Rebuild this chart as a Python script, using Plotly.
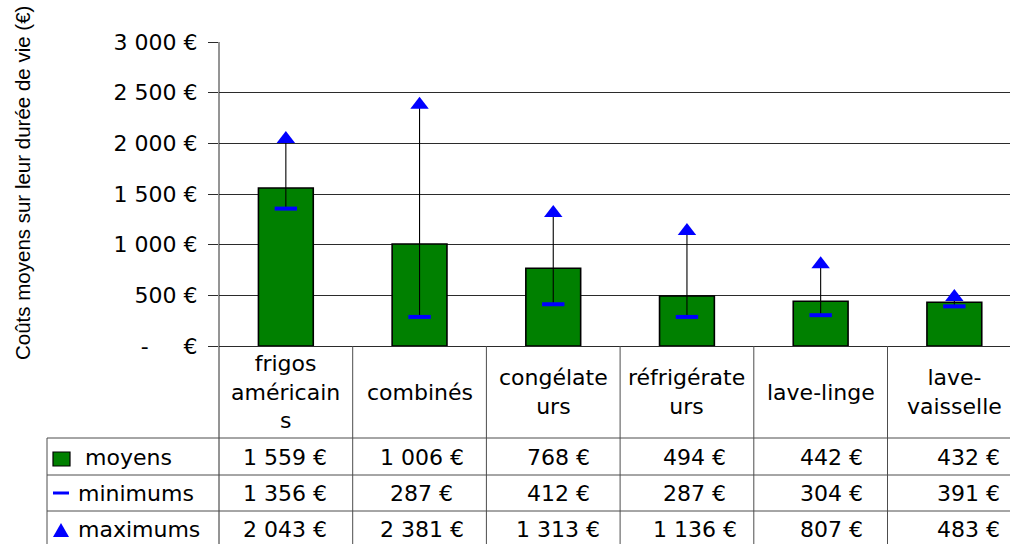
import plotly.graph_objects as go

# Données : coûts moyens / minimums / maximums sur la durée de vie (€)
categories = ["frigos<br>américain<br>s", "combinés", "congélate<br>urs",
              "réfrigérate<br>urs", "lave-linge", "lave-<br>vaisselle"]
moyens = [1559, 1006, 768, 494, 442, 432]
minimums = [1356, 287, 412, 287, 304, 391]
maximums = [2043, 2381, 1313, 1136, 807, 483]
series_names = ["moyens", "minimums", "maximums"]
y_ticks = [0, 500, 1000, 1500, 2000, 2500, 3000]
y_title = "Coûts moyens sur leur durée de vie (€)"

W, H = 1010, 544
ML, MT, MB = 219, 42, 198
PLOT_W = W - ML
PLOT_H = H - MT - MB
COL_W = 133.7          # largeur d'une colonne du tableau, en pixels
GREEN = "#008000"
BLUE = "#0000ff"
GRID = "#2b2b2b"
TABLE = "#4d4d4d"
TXT_FONT = dict(family="DejaVu Sans", size=22, color="black")


def fmt(v):
    return f"{v:,}".replace(",", " ") + " €"


def tick_text(v):
    return "-" + "\u00a0" * 5 + "€" if v == 0 else fmt(v)


def px(p):
    """pixel horizontal -> coordonnée papier"""
    return (p - ML) / PLOT_W


def py(p):
    """pixel vertical -> coordonnée papier"""
    return (MT + PLOT_H - p) / PLOT_H


xs = list(range(len(categories)))

fig = go.Figure()

fig.add_trace(go.Bar(
    x=xs, y=moyens, width=0.41, name=series_names[0],
    marker=dict(color=GREEN, line=dict(color="black", width=1.6)),
))

# segments min -> max
seg_x, seg_y = [], []
for x, lo, hi in zip(xs, minimums, maximums):
    seg_x += [x, x, None]
    seg_y += [lo, hi, None]
fig.add_trace(go.Scatter(
    x=seg_x, y=seg_y, mode="lines",
    line=dict(color="black", width=1.1), hoverinfo="skip",
))
fig.add_trace(go.Scatter(
    x=xs, y=minimums, mode="markers", name=series_names[1],
    marker=dict(symbol="line-ew", size=16, line=dict(color=BLUE, width=4)),
))
fig.add_trace(go.Scatter(
    x=xs, y=maximums, mode="markers", name=series_names[2],
    marker=dict(symbol="triangle-up", size=16, color=BLUE, line=dict(width=0)),
))

shapes = []
bottom = py(H + 10)
# axe vertical prolongé dans le tableau
shapes.append(dict(type="line", xref="paper", yref="paper", x0=0, x1=0,
                   y0=1, y1=bottom, line=dict(color=GRID, width=1)))
# séparateurs de colonnes
for i in xs[:-1]:
    shapes.append(dict(type="line", xref="x", yref="paper", x0=i + 0.5, x1=i + 0.5,
                       y0=0, y1=bottom, line=dict(color=TABLE, width=1)))
# lignes horizontales du tableau
row_lines = [438, 475, 511]
for r in row_lines:
    shapes.append(dict(type="line", xref="paper", yref="paper", x0=px(47), x1=1,
                       y0=py(r), y1=py(r), line=dict(color=TABLE, width=1)))
shapes.append(dict(type="line", xref="paper", yref="paper", x0=px(47), x1=px(47),
                   y0=py(438), y1=bottom, line=dict(color=TABLE, width=1)))

# symboles de légende dans le tableau
shapes.append(dict(type="rect", xref="paper", yref="paper",
                   x0=px(53), x1=px(70), y0=py(452), y1=py(466),
                   fillcolor=GREEN, line=dict(color="black", width=1.2)))
shapes.append(dict(type="line", xref="paper", yref="paper",
                   x0=px(53), x1=px(69), y0=py(493), y1=py(493),
                   line=dict(color=BLUE, width=3)))
shapes.append(dict(type="path", xref="paper", yref="paper",
                   path=f"M {px(53)},{py(537)} L {px(69)},{py(537)} L {px(61)},{py(523)} Z",
                   fillcolor=BLUE, line=dict(width=0)))

annotations = []
# titre de l'axe vertical
annotations.append(dict(text=y_title, textangle=-90, xref="paper", yref="paper",
                        x=px(22), y=py(183), xanchor="center", yanchor="middle",
                        showarrow=False,
                        font=dict(family="Liberation Sans", size=20.5, color="black")))
# en-têtes de colonnes
for i, lab in zip(xs, categories):
    annotations.append(dict(text=lab, xref="x", yref="paper", x=i, y=py(392),
                            xanchor="center", yanchor="middle", showarrow=False,
                            font=TXT_FONT))
# lignes de valeurs
row_centers = [457, 493, 529]
for name, vals, yc, lx in zip(series_names, [moyens, minimums, maximums],
                              row_centers, [83, 76, 76]):
    annotations.append(dict(text=name, xref="paper", yref="paper", x=px(lx), y=py(yc),
                            xanchor="left", yanchor="middle", showarrow=False,
                            font=TXT_FONT))
    for i, v in zip(xs, vals):
        annotations.append(dict(text=fmt(v), xref="x", yref="paper", x=i, y=py(yc),
                                xanchor="center", yanchor="middle", showarrow=False,
                                xshift=3 * i - 1, font=TXT_FONT))

fig.update_layout(
    width=W, height=H,
    margin=dict(l=ML, r=0, t=MT, b=MB, pad=0),
    paper_bgcolor="white", plot_bgcolor="white",
    showlegend=False,
    shapes=shapes, annotations=annotations,
    xaxis=dict(range=[-0.5, -0.5 + PLOT_W / COL_W], showticklabels=False,
               showgrid=False, zeroline=False, showline=True, linecolor=GRID,
               linewidth=1, ticks="", automargin=False, fixedrange=True),
    yaxis=dict(range=[0, 3000], tickvals=y_ticks,
               ticktext=[tick_text(v) for v in y_ticks],
               ticks="outside", ticklen=10, tickcolor=GRID, tickwidth=1,
               showgrid=True, gridcolor=GRID, gridwidth=1,
               zeroline=False, showline=False, automargin=False,
               ticklabelstandoff=6,
               tickfont=TXT_FONT, fixedrange=True),
    hovermode=False,
)

fig.write_html("out.html", config={"displayModeBar": False})
